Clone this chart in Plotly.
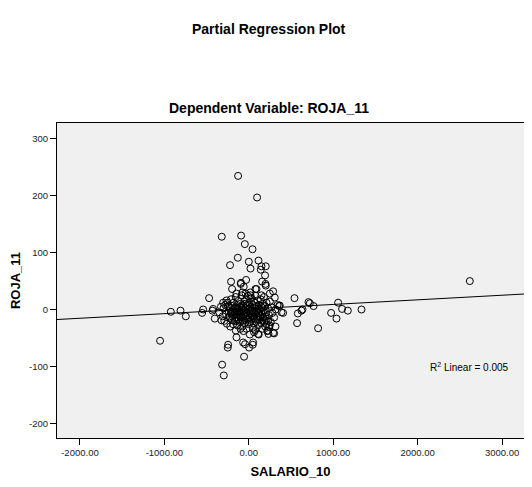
import plotly.graph_objects as go

# partial residuals (SALARIO_10, ROJA_11)
outer_x = [-127, 98, -320, -91, -47, 44, -130, -222, 0, 115, 20, 150, 201, 142, 193,
           -210, -95, -32, 158, 201, -198, 79, 288, -470, 541, 707, 767, 1058,
           -924, -809, -746, -553, 975, 1039, 1105, 1173, 1335, 821, 572, 581, 624, 636,
           -1051, -249, -56, -44, 4, 47, -146, 12, 118, 300, 225, 233, 316, 406, 359, 308,
           -316, -296, 2618, -146, -75, -304, -264, 20, -541, -423, 198, 91, 249, 150, 367,
           723, -430, -403, -324, -154, -27, -67, 51, -245, 110, 249, 288, 387, -93, -60]
outer_y = [235, 197, 128, 130, 115, 106, 91, 78, 84, 86, 72, 76, 76, 70, 60,
           49, 45, 52, 49, 42, 36, 36, 32, 20, 20, 13, 6, 12,
           -4, -2, -12, -6, -6, -16, 1, -2, 0, -33, -24, -7, -2, 0,
           -55, -67, -83, -61, -67, -62, -49, -44, -44, -42, -37, -43, -30, -6, 6, 21,
           -97, -116, 50, 28, 30, 12, 16, 25, 0, 1, 45, 36, 28, 25, 7,
           11, -2, -16, -19, -37, -34, -58, -58, -62, -43, -28, -41, -5, 47, 40]

core_x = [-350, -330, -310, -300, -290, -280, -270, -260, -250, -240, -235, -225, -220, -210,
          -205, -200, -195, -190, -185, -180, -175, -170, -165, -160, -155, -150, -145, -140,
          -135, -130, -125, -120, -115, -110, -105, -100, -95, -90, -85, -80, -75, -70, -65,
          -60, -55, -50, -45, -40, -35, -30, -25, -20, -15, -10, -5, 0, 5, 10, 15, 20, 25, 30,
          35, 40, 45, 50, 55, 60, 65, 70, 75, 80, 85, 90, 95, 100, 105, 110, 115, 120, 125,
          130, 135, 140, 145, 150, 155, 160, 165, 170, 175, 180, 185, 190, 195, 200, 210, 215,
          220, 230, 240, 250, 260, 270, 280, 300, 320, 340,
          -148, -132, -118, -102, -88, -72, -58, -42, -28, -12, 2, 12, 28, 42, 58, 72, 88, 102,
          118, 132, 148, 162, 178, 192, -192, -178, -162, -212, -228, -242, -8, 18, -38, 62,
          78, -98, -62, 208, 228, 238]
core_y = [-5, 5, -12, 2, -20, 8, -8, -25, 12, -3, -15, 4, -30, 18,
          -8, -18, 6, -2, -26, 12, -10, -4, -20, 3, 22, -14, -6, 8,
          -28, -1, 15, -18, -8, 4, -22, 10, -4, -12, 25, 0, -30, 6, -16,
          -2, 14, -8, -24, 2, -12, 18, -4, -18, 8, -10, 0, -26, 12, -6, -14, 4, -20, 20,
          -2, -10, 8, -32, -6, 14, -16, 2, -8, 24, -22, 6, -12, -2, 16, -28, -6, 8, -18,
          0, -10, 18, -24, 4, -8, -34, 10, -14, -2, 22, -20, 6, -30, -6, 12, -16,
          -38, 2, -10, 14, -22, 4, -6, -14, 0, 8,
          -20, 2, -4, -14, 6, -20, -10, 10, -6, -16, 2, -22, -12, -2, -24, 12, -4, -18,
          2, -14, -4, -20, 6, -12, -12, 2, -6, -4, -12, 6, 24, 30, 28, -40,
          -36, -34, -38, -26, -20, -30]

fit_slope = 0.0081
fit_intercept = 0.8
r2_text = "R<sup>2</sup> Linear = 0.005"

x_ticks = [-2000, -1000, 0, 1000, 2000, 3000]
x_labels = ["-2000.00", "-1000.00", "0.00", "1000.00", "2000.00", "3000.00"]
y_ticks = [-200, -100, 0, 100, 200, 300]
y_labels = ["-200", "-100", "0", "100", "200", "300"]

x_range = [-2272, 3260]
y_range = [-226, 328]

fig = go.Figure()
fig.add_trace(go.Scatter(
    x=x_range, y=[fit_slope * v + fit_intercept for v in x_range],
    mode="lines", line=dict(color="black", width=1), hoverinfo="skip"))
fig.add_trace(go.Scatter(
    x=outer_x + core_x, y=outer_y + core_y, mode="markers",
    marker=dict(symbol="circle-open", size=7, color="black", line=dict(width=1))))

fig.add_annotation(x=0.4536, y=1.33, xref="paper", yref="paper", showarrow=False,
                   text="<b>Partial Regression Plot</b>", font=dict(size=14, color="black"))
fig.add_annotation(x=0.4536, y=1.079, xref="paper", yref="paper", showarrow=False,
                   text="<b>Dependent Variable: ROJA_11</b>", font=dict(size=14, color="black"))
fig.add_annotation(x=3104, y=-102, xanchor="right", showarrow=False,
                   text=r2_text, font=dict(size=10, color="black"))

# page body adds an 8px offset; keep the figure small enough to avoid scrollbars
fig.update_layout(
    width=516, height=471, showlegend=False,
    margin=dict(l=49, r=0, t=115, b=41),
    paper_bgcolor="white", plot_bgcolor="#f0f0f0",
    font=dict(family="Liberation Sans, Arial, sans-serif", color="black"),
)
fig.update_xaxes(
    range=x_range, tickvals=x_ticks, ticktext=x_labels, showgrid=False, zeroline=False,
    showline=True, linecolor="black", linewidth=1, mirror=True, automargin=False,
    ticks="outside", ticklen=6, tickcolor="black", tickfont=dict(size=9.5, color="#222"),
    title=dict(text="<b>SALARIO_10</b>", font=dict(size=13), standoff=10))
fig.update_yaxes(
    range=y_range, tickvals=y_ticks, ticktext=y_labels, showgrid=False, zeroline=False,
    showline=True, linecolor="black", linewidth=1, automargin=False,
    ticks="outside", ticklen=6, tickcolor="black", tickfont=dict(size=9.5, color="#222"),
    title=dict(text="<b>ROJA_11</b>", font=dict(size=13), standoff=12))

fig.write_html("out.html")
